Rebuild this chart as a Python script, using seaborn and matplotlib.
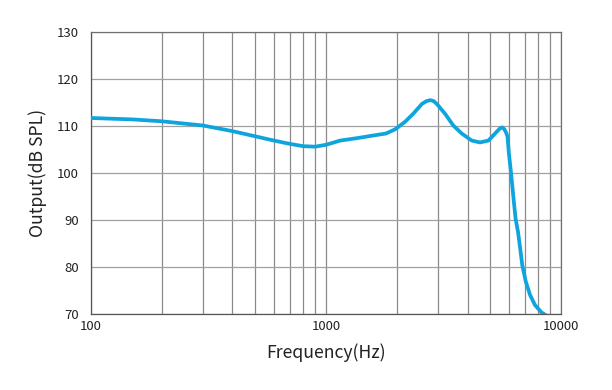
import numpy as np
import pandas as pd
import matplotlib
matplotlib.use("Agg")
import matplotlib.pyplot as plt
import matplotlib.ticker as ticker
import seaborn as sns

# Frequency response
freq = [100, 150, 200, 300, 400, 500, 600, 700, 800, 900, 1000, 1150, 1350, 1600,
        1800, 1970, 2170, 2350, 2560, 2680, 2780, 2870, 2960, 3210, 3480, 3780,
        4170, 4520, 4910, 5240, 5500, 5620, 5740, 5850, 5920, 6000, 6110, 6210,
        6310, 6410, 6560, 6700, 6840, 7080, 7390, 7750, 8270, 8590]
spl = [111.7, 111.4, 111.0, 110.1, 108.9, 107.8, 106.9, 106.2, 105.7, 105.6, 106.0,
       106.9, 107.4, 108.0, 108.4, 109.3, 110.9, 112.6, 114.7, 115.3, 115.5, 115.3,
       114.7, 112.6, 110.1, 108.4, 106.9, 106.5, 106.9, 108.4, 109.5, 109.7, 109.3,
       108.5, 107.7, 104.2, 100.6, 97.1, 93.5, 90.2, 87.5, 84.0, 80.4, 76.9, 74.0,
       71.9, 70.3, 69.8]
x_ticks = [100, 1000, 10000]
y_ticks = [70, 80, 90, 100, 110, 120, 130]

df = pd.DataFrame({"freq": freq, "spl": spl})

sns.set_style("white")
plt.rcParams['font.family'] = ['Noto Sans CJK SC', 'DejaVu Sans']

fig = plt.figure(figsize=(6.12, 3.9), dpi=100)
ax = fig.add_axes([0.1487, 0.1949, 0.768, 0.7231])

sns.lineplot(data=df, x="freq", y="spl", color="#0ea5de", linewidth=2.7,
             ax=ax, zorder=3)

ax.set_xscale("log")
ax.set_xlim(100, 10000)
ax.set_ylim(70, 130)
ax.set_xticks(x_ticks)
ax.xaxis.set_major_formatter(ticker.FuncFormatter(lambda v, p: f"{int(v)}"))
ax.xaxis.set_minor_locator(ticker.LogLocator(base=10, subs=np.arange(2, 10)))
ax.xaxis.set_minor_formatter(ticker.NullFormatter())
ax.set_yticks(y_ticks)

ax.grid(True, which="both", axis="x", color="#8a8a8a", linewidth=0.9)
ax.grid(True, which="major", axis="y", color="#a0a0a0", linewidth=0.9)
ax.tick_params(which="both", length=0, labelsize=9.5, colors="#222222")
ax.tick_params(axis="y", pad=9)
ax.tick_params(axis="x", pad=4)

for s in ax.spines.values():
    s.set_color("#707070")
    s.set_linewidth(0.9)
ax.spines["left"].set_color("#555555")
ax.spines["bottom"].set_color("#555555")

ax.set_xlabel("Frequency(Hz)", fontsize=12.7, color="#222222", labelpad=8)
ax.set_ylabel("Output(dB SPL)", fontsize=12.7, color="#222222", labelpad=7)

plt.savefig("out.png", dpi=100)
